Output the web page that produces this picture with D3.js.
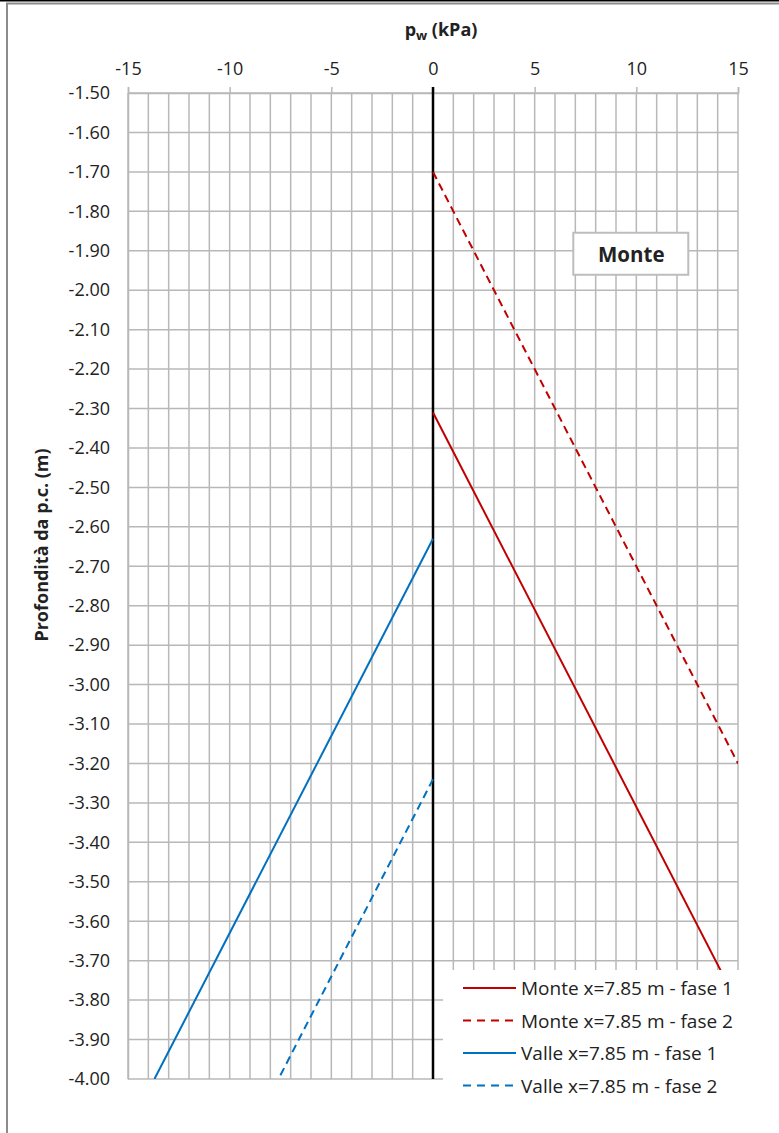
<!DOCTYPE html>
<html>
<head>
<meta charset="utf-8">
<script src="https://cdn.jsdelivr.net/npm/d3@7"></script>
<style>
  body { margin: 0; background: #fff; }
  svg text { font-family: "Open Sans", sans-serif; fill: #222; }
</style>
</head>
<body>
<div id="chart"></div>
<script>
// data
var xTicks = [-15, -10, -5, 0, 5, 10, 15];
var yTicks = [-1.5, -1.6, -1.7, -1.8, -1.9, -2.0, -2.1, -2.2, -2.3, -2.4, -2.5, -2.6, -2.7,
  -2.8, -2.9, -3.0, -3.1, -3.2, -3.3, -3.4, -3.5, -3.6, -3.7, -3.8, -3.9, -4.0];
var seriesNames = ["Monte x=7.85 m - fase 1", "Monte x=7.85 m - fase 2",
  "Valle x=7.85 m - fase 1", "Valle x=7.85 m - fase 2"];
var monte1 = [{pw: 0, z: -2.31}, {pw: 16.9, z: -4.0}];
var monte2 = [{pw: 0, z: -1.70}, {pw: 15.0, z: -3.20}];
var valle1 = [{pw: 0, z: -2.63}, {pw: -13.7, z: -4.0}];
var valle2 = [{pw: 0, z: -3.24}, {pw: -7.6, z: -4.0}];

var svgWidth = 779;
var svgHeight = 1133;
var margin = {top: 93, right: 41, bottom: 54, left: 128};
var chartWidth = svgWidth - margin.left - margin.right;
var chartHeight = svgHeight - margin.top - margin.bottom;

var svg = d3.select("#chart")
  .append("svg")
  .attr("width", svgWidth)
  .attr("height", svgHeight);

// outer frame
svg.append("line").attr("x1", 0).attr("x2", svgWidth).attr("y1", 0.5).attr("y2", 0.5)
  .attr("stroke", "#000").attr("stroke-width", 2);
svg.append("rect").attr("x", 7).attr("y", 3.5).attr("width", svgWidth + 10).attr("height", svgHeight + 10)
  .attr("fill", "none").attr("stroke", "#8c8c8c").attr("stroke-width", 2);

var chartGroup = svg.append("g")
  .attr("transform", `translate(${margin.left}, ${margin.top})`);

var x = d3.scaleLinear().domain([-15, 15]).range([0, chartWidth]);
var y = d3.scaleLinear().domain([-1.5, -4.0]).range([0, chartHeight]);

var gridColor = "#b8b8b8";
// plain hyphen for negatives, as in the original
var hy = f => (d => f(d).replace("\u2212", "-"));

// vertical grid every 1 kPa
chartGroup.append("g")
  .selectAll("line")
  .data(d3.range(-15, 16, 1))
  .enter()
  .append("line")
  .attr("x1", d => x(d)).attr("x2", d => x(d))
  .attr("y1", 0).attr("y2", chartHeight)
  .attr("stroke", gridColor).attr("stroke-width", 1.5);

// horizontal grid
chartGroup.append("g")
  .selectAll("line")
  .data(yTicks)
  .enter()
  .append("line")
  .attr("x1", 0).attr("x2", chartWidth)
  .attr("y1", d => y(d)).attr("y2", d => y(d))
  .attr("stroke", gridColor).attr("stroke-width", 1.5);

// top axis
var xAxis = d3.axisTop(x).tickValues(xTicks).tickSize(6).tickPadding(12).tickFormat(hy(d3.format("d")));
var gx = chartGroup.append("g").call(xAxis);
gx.select(".domain").attr("stroke", gridColor).attr("stroke-width", 1.5);
gx.selectAll(".tick line").attr("stroke", gridColor).attr("stroke-width", 1.5);
gx.selectAll("text").attr("font-size", "18px").attr("font-family", "'Open Sans', sans-serif").attr("fill", "#222");

// left axis
var yAxis = d3.axisLeft(y).tickValues(yTicks).tickSize(0).tickPadding(18).tickFormat(hy(d3.format(".2f")));
var gy = chartGroup.append("g").call(yAxis);
gy.select(".domain").attr("stroke", gridColor).attr("stroke-width", 1.5);
gy.selectAll("text").attr("font-size", "18px").attr("font-family", "'Open Sans', sans-serif").attr("fill", "#222");

// zero line
chartGroup.append("line")
  .attr("x1", x(0)).attr("x2", x(0))
  .attr("y1", -6).attr("y2", chartHeight)
  .attr("stroke", "#000").attr("stroke-width", 2.5);

// clip
chartGroup.append("clipPath").attr("id", "plotClip")
  .append("rect").attr("x", 0).attr("y", 0).attr("width", chartWidth).attr("height", chartHeight);

var line = d3.line().x(d => x(d.pw)).y(d => y(d.z));
var series = [
  {name: seriesNames[0], values: monte1, color: "#c00000", dash: null},
  {name: seriesNames[1], values: monte2, color: "#c00000", dash: "8,5"},
  {name: seriesNames[2], values: valle1, color: "#0070c0", dash: null},
  {name: seriesNames[3], values: valle2, color: "#0070c0", dash: "8,5"}
];

chartGroup.append("g").attr("clip-path", "url(#plotClip)")
  .selectAll("path")
  .data(series)
  .enter()
  .append("path")
  .attr("d", d => line(d.values))
  .attr("fill", "none")
  .attr("stroke", d => d.color)
  .attr("stroke-width", 2)
  .attr("stroke-dasharray", d => d.dash);

// "Monte" label box
var boxG = chartGroup.append("g").attr("transform", `translate(${x(6.9)}, ${y(-1.9)})`);
boxG.append("rect").attr("x", 0).attr("y", -18).attr("width", 115).attr("height", 42)
  .attr("fill", "#fff").attr("stroke", "#bdbdbd").attr("stroke-width", 2);
boxG.append("text").attr("x", 58).attr("y", 11).attr("text-anchor", "middle")
  .attr("font-size", "20.5px").attr("font-weight", "bold").attr("fill", "#000").text("Monte");

// legend
var legend = svg.append("g").attr("transform", "translate(443, 970)");
legend.append("rect").attr("x", 0).attr("y", 0).attr("width", 340).attr("height", 160).attr("fill", "#fff");
var items = legend.selectAll("g.item")
  .data(series)
  .enter()
  .append("g")
  .attr("class", "item")
  .attr("transform", (d, i) => `translate(0, ${18 + i * 32.5})`);
items.append("line")
  .attr("x1", 20).attr("x2", 73).attr("y1", 0).attr("y2", 0)
  .attr("stroke", d => d.color).attr("stroke-width", 2)
  .attr("stroke-dasharray", d => d.dash ? "8,6" : null);
items.append("text")
  .attr("x", 78).attr("y", 7)
  .attr("font-size", "19px")
  .text(d => d.name);

// axis titles
var xt = svg.append("text")
  .attr("x", 441).attr("y", 36)
  .attr("text-anchor", "middle")
  .attr("font-size", "18px").attr("font-weight", "bold");
xt.append("tspan").text("p");
xt.append("tspan").attr("font-size", "13px").attr("dy", 4).text("w");
xt.append("tspan").attr("dy", -4).text(" (kPa)");

svg.append("text")
  .attr("transform", "rotate(-90)")
  .attr("x", -545).attr("y", 48)
  .attr("text-anchor", "middle")
  .attr("font-size", "18px").attr("font-weight", "bold")
  .text("Profondità da p.c. (m)");
</script>
</body>
</html>
